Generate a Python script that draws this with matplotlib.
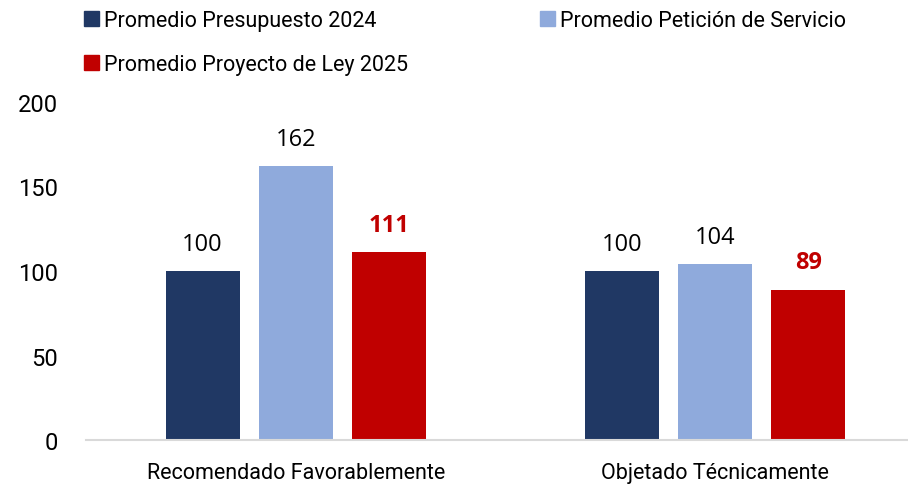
import matplotlib.pyplot as plt
import numpy as np
from matplotlib.patches import Patch

plt.rcParams['font.family'] = ['Roboto', 'DejaVu Sans']

categories = ["Recomendado Favorablemente", "Objetado Técnicamente"]
series_names = ["Promedio Presupuesto 2024", "Promedio Petición de Servicio", "Promedio Proyecto de Ley 2025"]
presupuesto_2024 = [100, 100]
peticion_servicio = [162, 104]
proyecto_ley_2025 = [111, 89]

colors = ["#203864", "#8faadc", "#c00000"]
label_colors = ["#000000", "#000000", "#c00000"]
label_weights = ["normal", "normal", "bold"]

fig = plt.figure(figsize=(9.08, 4.85), dpi=100)
ax = fig.add_axes([86 / 908, 44 / 485, 839 / 908, 338 / 485])

x = np.arange(len(categories))
width = 0.176
step = 0.222
series = [presupuesto_2024, peticion_servicio, proyecto_ley_2025]
handles = []
for i, vals in enumerate(series):
    pos = x + (i - 1) * step
    bars = ax.bar(pos, vals, width, color=colors[i])
    handles.append(Patch(color=colors[i], label=series_names[i]))
    for b, v in zip(bars, vals):
        ax.text(b.get_x() + b.get_width() / 2, v + 9, str(v), ha='center', va='bottom',
                fontsize=17, color=label_colors[i], fontweight=label_weights[i],
                family=['Open Sans', 'DejaVu Sans'])

ax.set_xlim(-0.5, 1.5)
ax.set_ylim(0, 200)
ax.set_yticks([0, 50, 100, 150, 200])
ax.set_xticks(x)
ax.set_xticklabels(categories, fontsize=15.5)
ax.tick_params(axis='y', labelsize=17, length=0, pad=20)
ax.tick_params(axis='x', length=0, pad=16)
for s in ['top', 'right', 'left']:
    ax.spines[s].set_visible(False)
ax.spines['bottom'].set_color('#d9d9d9')
ax.spines['bottom'].set_linewidth(1.5)

leg_kw = dict(loc='upper left', frameon=False, fontsize=15.5,
              handlelength=0.7, handleheight=0.7, handletextpad=0.25,
              labelspacing=1.05, borderaxespad=0, borderpad=0)
fig.legend(handles=[handles[0], handles[2]], bbox_to_anchor=(84 / 908, 1 - 11 / 485), **leg_kw)
fig.legend(handles=[handles[1]], bbox_to_anchor=(540 / 908, 1 - 11 / 485), **leg_kw)

fig.savefig("out.png", dpi=100)
